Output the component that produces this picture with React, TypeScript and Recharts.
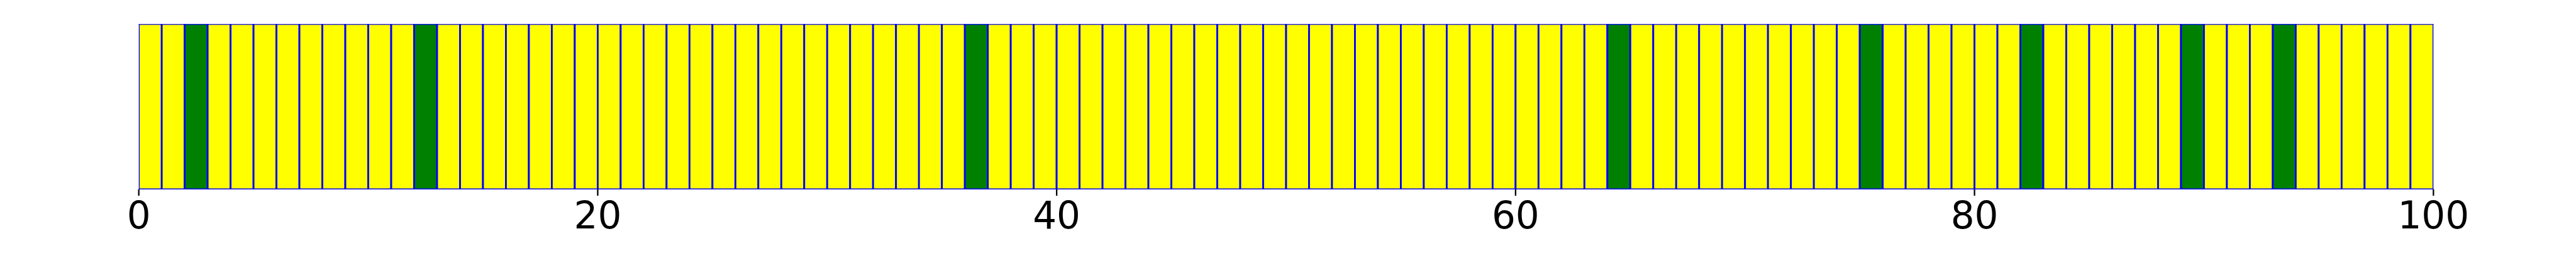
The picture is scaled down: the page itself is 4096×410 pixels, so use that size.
import React from 'react';
import { BarChart, Bar, XAxis, YAxis } from 'recharts';

// Left edge of each bar on the x axis (bars are one unit wide)
const barStarts = [
  0, 1, 2, 3, 4, 5, 6, 7, 8, 9,
  10, 11, 12, 13, 14, 15, 16, 17, 18, 19,
  20, 21, 22, 23, 24, 25, 26, 27, 28, 29,
  30, 31, 32, 33, 34, 35, 36, 37, 38, 39,
  40, 41, 42, 43, 44, 45, 46, 47, 48, 49,
  50, 51, 52, 53, 54, 55, 56, 57, 58, 59,
  60, 61, 62, 63, 64, 65, 66, 67, 68, 69,
  70, 71, 72, 73, 74, 75, 76, 77, 78, 79,
  80, 81, 82, 83, 84, 85, 86, 87, 88, 89,
  90, 91, 92, 93, 94, 95, 96, 97, 98, 99,
];

// Height of each bar
const barHeights = [
  1, 1, 1, 1, 1, 1, 1, 1, 1, 1,
  1, 1, 1, 1, 1, 1, 1, 1, 1, 1,
  1, 1, 1, 1, 1, 1, 1, 1, 1, 1,
  1, 1, 1, 1, 1, 1, 1, 1, 1, 1,
  1, 1, 1, 1, 1, 1, 1, 1, 1, 1,
  1, 1, 1, 1, 1, 1, 1, 1, 1, 1,
  1, 1, 1, 1, 1, 1, 1, 1, 1, 1,
  1, 1, 1, 1, 1, 1, 1, 1, 1, 1,
  1, 1, 1, 1, 1, 1, 1, 1, 1, 1,
  1, 1, 1, 1, 1, 1, 1, 1, 1, 1,
];

// Bars that are highlighted in green
const greenBars = [2, 12, 36, 64, 75, 82, 89, 93];

const xTicks = [0, 20, 40, 60, 80, 100];

const YELLOW = '#ffff00';
const GREEN = '#008000';
const EDGE = '#0000ff';
const BAR_WIDTH = 1;

const data = barStarts.map((s, i) => ({
  x: s + BAR_WIDTH / 2,
  start: s,
  h: barHeights[i],
  color: greenBars.includes(s) ? GREEN : YELLOW,
}));

const LW = 2.84;

const BarShape = (props: any) => {
  const { x, y, width, height, payload } = props;
  if (width == null || height == null) return null;
  return (
    <g>
      <rect x={x} y={y} width={width} height={height} fill={payload.color} />
      <line x1={x} y1={y} x2={x} y2={y + height} stroke={EDGE} strokeWidth={LW} />
      <line x1={x + width} y1={y} x2={x + width} y2={y + height} stroke={EDGE} strokeWidth={LW} />
      <line x1={x - LW / 2} y1={y + LW / 4} x2={x + width + LW / 2} y2={y + LW / 4} stroke={EDGE} strokeWidth={LW / 2} />
      <line x1={x - LW / 2} y1={y + height - LW / 4} x2={x + width + LW / 2} y2={y + height - LW / 4} stroke={EDGE} strokeWidth={LW / 2} />
    </g>
  );
};

export default function App() {
  return (
    <div style={{ position: 'absolute', left: 0, top: 0, width: 4096, height: 410, background: '#fff' }}>
      <BarChart
        width={4096}
        height={410}
        data={data}
        margin={{ top: 38.2, right: 226.7, bottom: 0, left: 220.7 }}
        barCategoryGap={0}
        barGap={0}
      >
        <XAxis
          dataKey="x"
          type="number"
          domain={[0, 100]}
          allowDataOverflow
          ticks={xTicks}
          height={109}
          axisLine={false}
          tickSize={10}
          tickMargin={10}
          tickLine={{ stroke: '#000', strokeWidth: 2.3 }}
          tick={{ fontSize: 59.6, fill: '#000', fontFamily: 'DejaVu Sans' }}
          interval={0}
        />
        <YAxis hide domain={[0, 1]} width={0} />
        <Bar dataKey="h" barSize={36.48} isAnimationActive={false} shape={BarShape} />
      </BarChart>
    </div>
  );
}
